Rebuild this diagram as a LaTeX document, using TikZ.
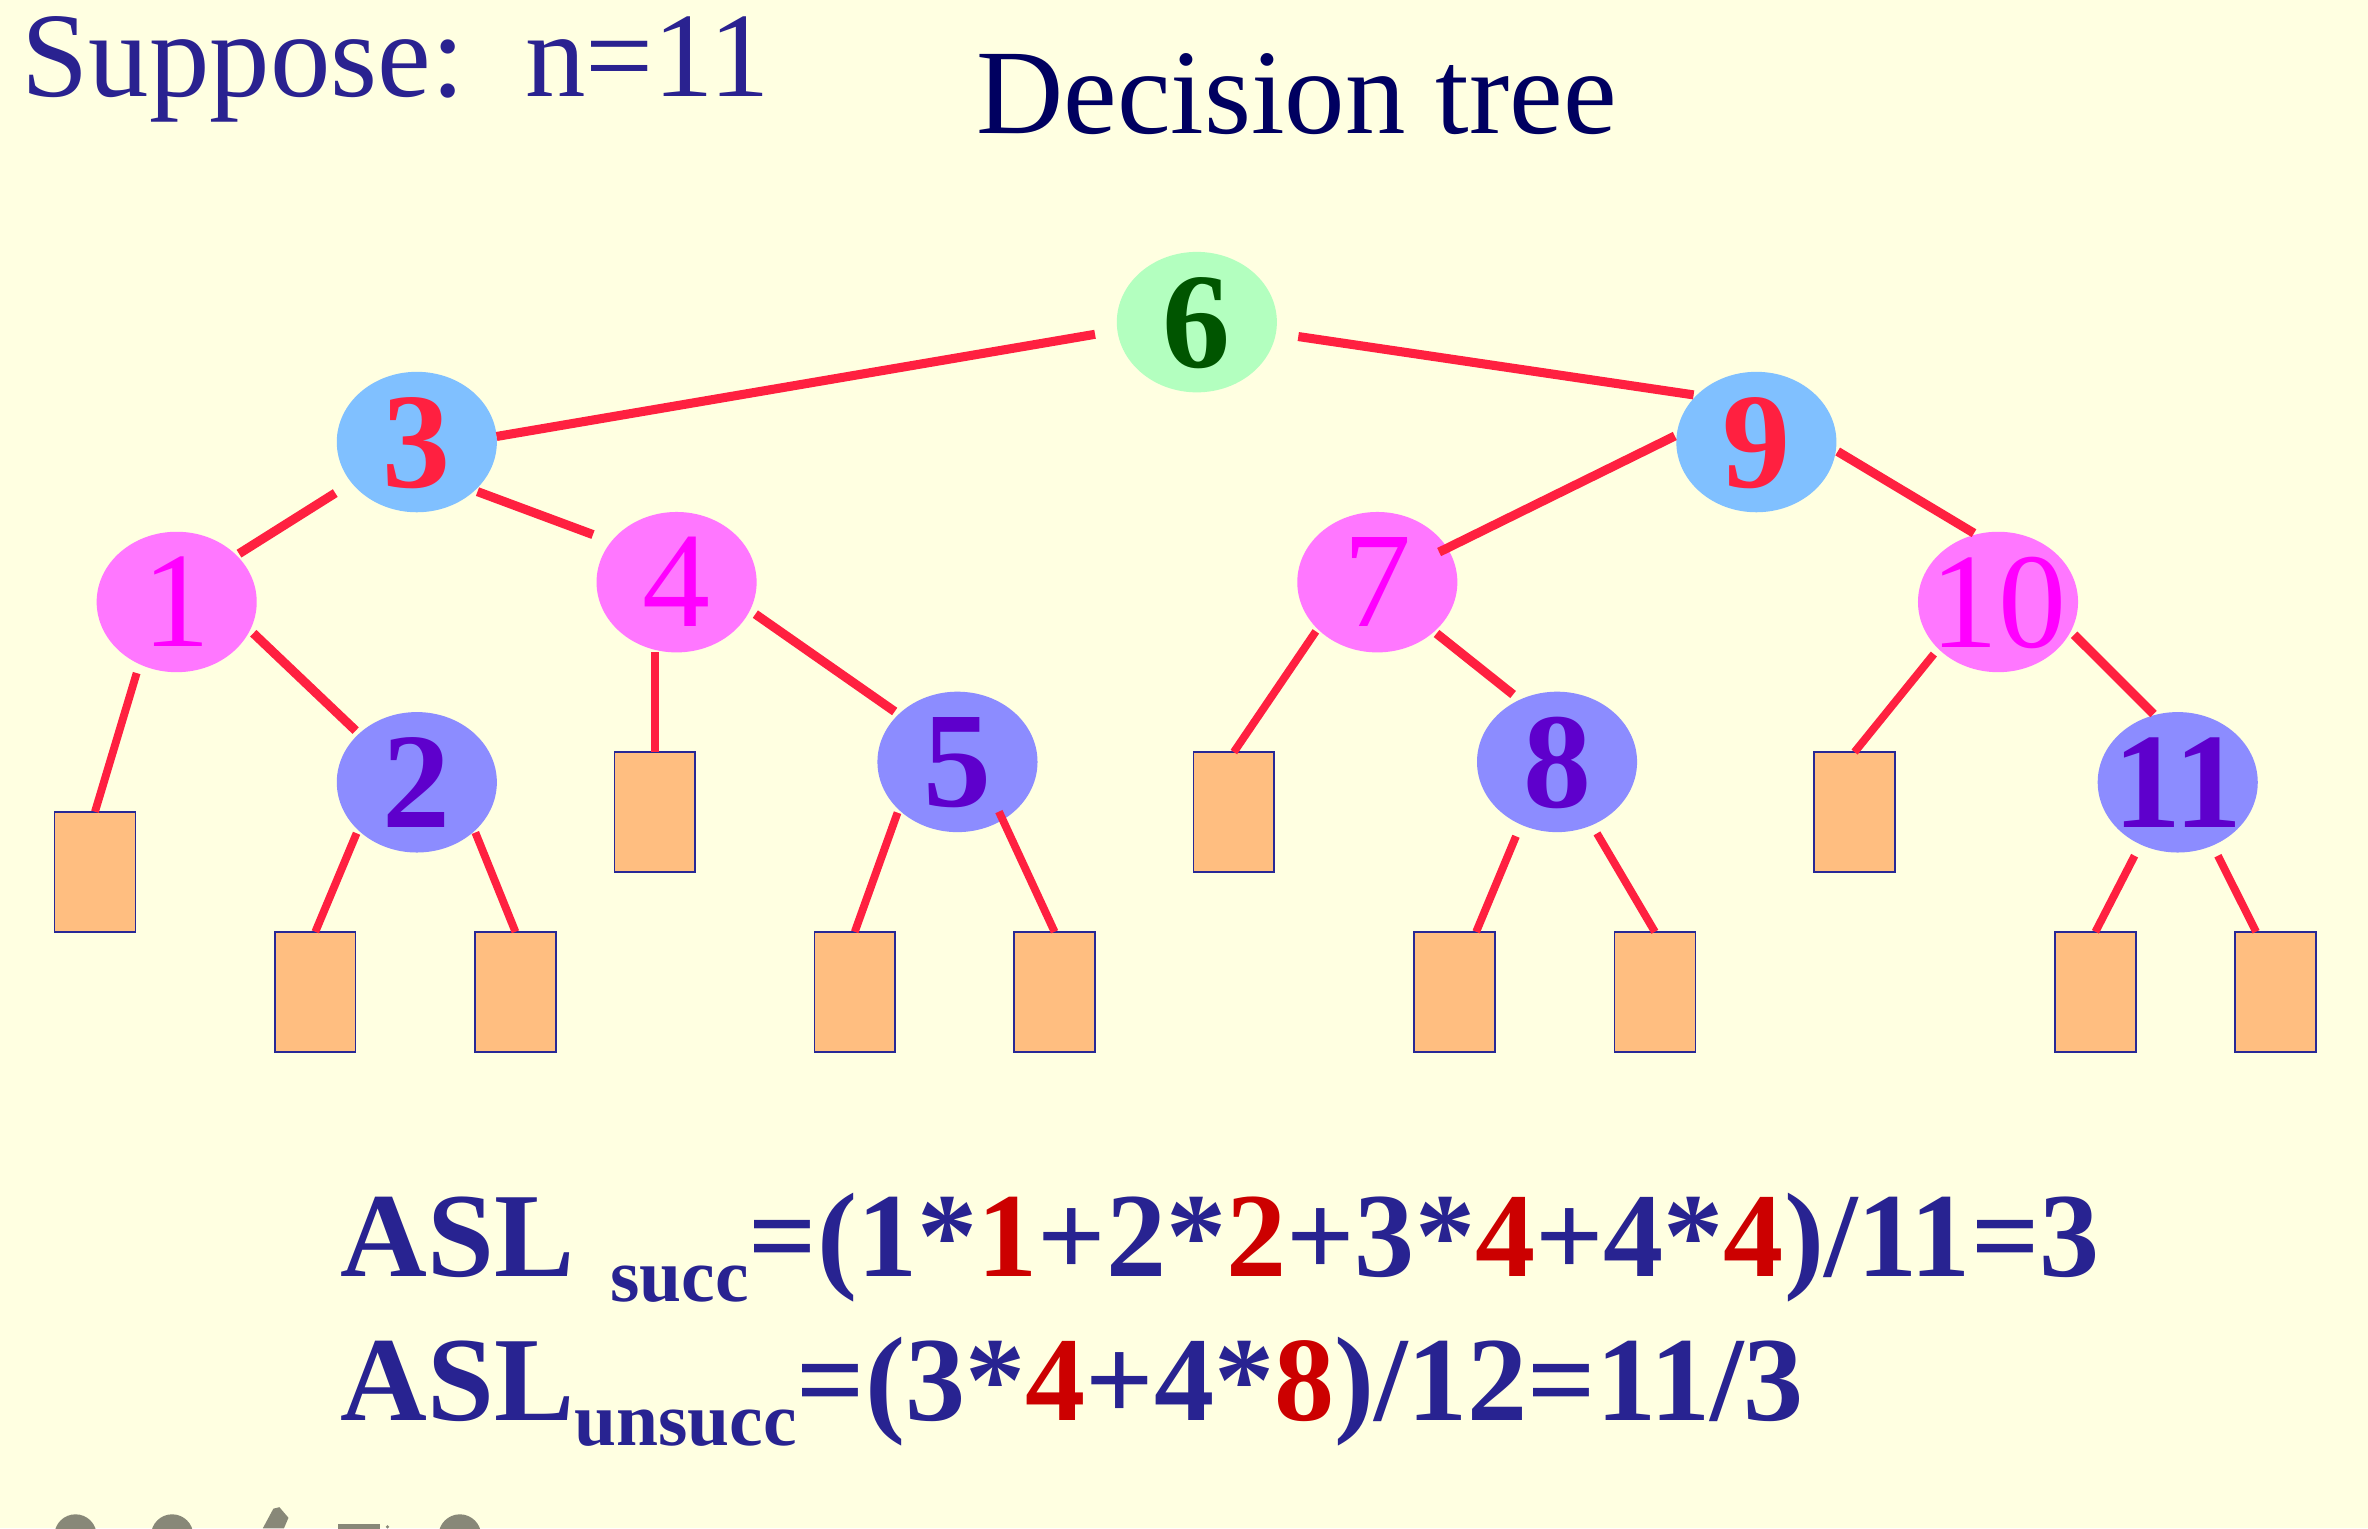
\documentclass[tikz,border=0pt]{standalone}
\usepackage{fontspec}
\setmainfont{Liberation Serif}
\usetikzlibrary{shapes.geometric}
\definecolor{bg}{RGB}{255,255,225}
\definecolor{edgered}{RGB}{255,32,64}
\definecolor{rootfill}{RGB}{179,255,191}
\definecolor{roottext}{RGB}{0,85,0}
\definecolor{bluefill}{RGB}{128,192,255}
\definecolor{pinkfill}{RGB}{255,119,255}
\definecolor{pinktext}{RGB}{255,0,255}
\definecolor{lavfill}{RGB}{140,140,255}
\definecolor{lavtext}{RGB}{94,0,204}
\definecolor{leaffill}{RGB}{255,190,128}
\definecolor{leafline}{RGB}{40,40,150}
\definecolor{titleblue}{RGB}{42,34,144}
\definecolor{titlenavy}{RGB}{0,0,96}
\definecolor{aslblue}{RGB}{40,35,145}
\definecolor{aslred}{RGB}{204,0,0}
\definecolor{icongrey}{RGB}{136,136,120}
\newcommand{\ctrnum}[1]{\makebox[0pt]{\raisebox{-.5\height}[0pt][0pt]{#1}}}
\begin{document}
\begin{tikzpicture}[x=0.5pt,y=-0.5pt,
  tnode/.style={ellipse, minimum width=53pt, minimum height=46.5pt, inner sep=0pt, outer sep=0pt, font=\fontsize{45}{45}\selectfont\bfseries},
  rootnode/.style={tnode, fill=rootfill, text=roottext},
  bluenode/.style={tnode, fill=bluefill, text=edgered},
  pinknode/.style={tnode, fill=pinkfill, text=pinktext, font=\fontsize{45}{45}\selectfont},
  lavnode/.style={tnode, fill=lavfill, text=lavtext},
  leafbox/.style={rectangle, fill=leaffill, draw=leafline, line width=0.5pt, minimum width=26.75pt, minimum height=39.75pt, inner sep=0pt, outer sep=0pt, anchor=north},
  link/.style={draw=edgered, line width=3pt},
  leaflink/.style={draw=edgered, line width=2.6pt},
  titletext/.style={anchor=base west, inner sep=0pt, font=\fontsize{40}{40}\selectfont},
  asltext/.style={anchor=base west, inner sep=0pt, text=aslblue, font=\fontsize{39.8}{39.8}\selectfont\bfseries},
]
\fill[bg] (0,0) rectangle (1568,1012);
\useasboundingbox (0,0) rectangle (1568,1012);
\clip (0,0) rectangle (1568,1012);

% titles
\node[titletext, text=titleblue] (suppose) at (14,64) {Suppose:\ \ n=11};
\node[titletext, text=titlenavy] (title) at (646,88.3) {Decision tree};

% tree nodes
\node[rootnode] (n6) at (792.5,213.3) {\ctrnum{6}};
\node[bluenode] (n3) at (276,292.7) {\ctrnum{3}};
\node[bluenode] (n9) at (1163,292.7) {\ctrnum{9}};
\node[pinknode] (n1) at (117,398.6) {\ctrnum{1}};
\node[pinknode] (n4) at (448,385.5) {\ctrnum{4}};
\node[pinknode] (n7) at (912,385.5) {\ctrnum{7}};
\node[pinknode] (n10) at (1323,398.6) {\ctrnum{10}};
\node[lavnode] (n2) at (276,518) {\ctrnum{2}};
\node[lavnode] (n5) at (634,504.5) {\ctrnum{5}};
\node[lavnode] (n8) at (1031,504.5) {\ctrnum{8}};
\node[lavnode] (n11) at (1442,518) {\ctrnum{11}};

% leaves
\node[leafbox] (l1) at (62.9,537.5) {};
\node[leafbox] (l2a) at (208.8,617) {};
\node[leafbox] (l2b) at (341.3,617) {};
\node[leafbox] (l4) at (433.5,498) {};
\node[leafbox] (l5a) at (566,617) {};
\node[leafbox] (l5b) at (698.3,617) {};
\node[leafbox] (l7) at (817,498) {};
\node[leafbox] (l8a) at (963,617) {};
\node[leafbox] (l8b) at (1095.8,617) {};
\node[leafbox] (l10) at (1228,498) {};
\node[leafbox] (l11a) at (1387.5,617) {};
\node[leafbox] (l11b) at (1506.8,617) {};

% inner edges
\draw[link, shorten >=7.5pt] (n3.4) -- (n6.186.5);
\draw[link, shorten <=7.5pt, shorten >=1pt] (n6.-8.2) -- (n9.142.6);
\draw[link, shorten <=6.4pt, shorten >=1pt] (n3.212) -- (n1.38.5);
\draw[link, shorten <=1pt, shorten >=6.5pt] (n3.-40.9) -- (n4.148.5);
\draw[link, shorten <=0.7pt, shorten >=-3pt] (n9.175) -- (n7.26.2);
\draw[link, shorten <=0.7pt, shorten >=0.8pt] (n9.-6.7) -- (n10.108.7);
\draw[link, shorten <=1.5pt, shorten >=1.5pt] (n1.-21) -- (n2.140.9);
\draw[link, shorten <=2.2pt, shorten >=1.6pt] (n4.-21.3) -- (n5.141.4);
\draw[link, shorten <=1pt, shorten >=2.8pt] (n7.-41.3) -- (n8.121.5);
\draw[link, shorten <=1.6pt, shorten >=0.5pt] (n10.-22.5) -- (n11.109.4);

% leaf edges
\draw[leaflink, shorten <=3.1pt] (n1.239.7) -- (l1.north);
\draw[leaflink, shorten <=1.2pt] (n2.219.5) -- (l2a.north);
\draw[leaflink, shorten <=0.6pt] (n2.-40.6) -- (l2b.north);
\draw[leaflink] (n4.south -| l4.north) -- (l4.north);
\draw[leaflink, shorten <=1.1pt] (n5.219.2) -- (l5a.north);
\draw[leaflink, shorten <=-3pt] (n5.-52.4) -- (l5b.north);
\draw[leaflink, shorten <=1pt] (n7.218.2) -- (l7.north);
\draw[leaflink, shorten <=4.2pt] (n8.240.7) -- (l8a.70.3);
\draw[leaflink, shorten <=3.2pt] (n8.-61.3) -- (l8b.north);
\draw[leaflink, shorten <=2.3pt] (n10.218.6) -- (l10.north);
\draw[leaflink, shorten <=4.2pt] (n11.239.9) -- (l11a.north);
\draw[leaflink, shorten <=3.8pt] (n11.-61.5) -- (l11b.108.4);

% formulas
\node[asltext] (aslsucc) at (225,845.4) {ASL\hspace{0.3em}\raisebox{-8.3pt}{\fontsize{25}{25}\selectfont succ}=(1*\textcolor{aslred}{1}+2*\textcolor{aslred}{2}+3*\textcolor{aslred}{4}+4*\textcolor{aslred}{4})/11=3};
\node[asltext] (aslunsucc) at (225,940.3) {ASL\raisebox{-8.3pt}{\fontsize{25}{25}\selectfont unsucc}=(3*\textcolor{aslred}{4}+4*\textcolor{aslred}{8})/12=11/3};

% partial toolbar icons at the bottom edge
\fill[icongrey] (50,1016.7) circle[radius=14];
\fill[icongrey] (114,1016.7) circle[radius=14];
\fill[icongrey] (174,1012) -- (181,999) -- (185,998) -- (191,1005) -- (188,1012) -- cycle;
\fill[icongrey] (223.5,1009) rectangle (251.8,1020);
\fill[icongrey] (256.6,1011) circle[radius=1.2];
\fill[icongrey] (304.5,1016.8) circle[radius=14.1];
\end{tikzpicture}
\end{document}
